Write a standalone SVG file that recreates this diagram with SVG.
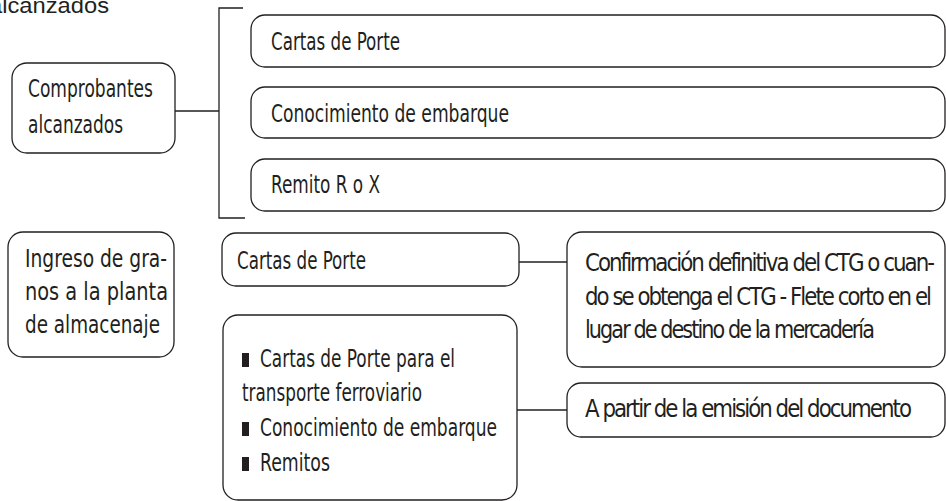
<svg xmlns="http://www.w3.org/2000/svg" width="946" height="501" viewBox="0 0 946 501">
<style>
.box{fill:#fff;stroke:#231f20;stroke-width:1.3}
.ln{fill:none;stroke:#231f20;stroke-width:1.3}
.bul{fill:#231f20}
.t{font-family:"Liberation Sans Narrow","DejaVu Sans",sans-serif;font-stretch:condensed;font-size:24px;fill:#231f20}
.tight{letter-spacing:-2px}
.title{font-family:"Liberation Sans","DejaVu Sans",sans-serif;font-size:22px;fill:#231f20}
</style>
<rect width="946" height="501" fill="#fff"/>
<text class="title" x="-11" y="13" textLength="120" lengthAdjust="spacingAndGlyphs">alcanzados</text>
<g id="connectors">
<path class="ln" d="M175 111H219M243 8H219V218H245"/>
<path class="ln" d="M519 262H567"/>
<path class="ln" d="M517 410H567"/>
</g>
<g id="comprobantes">
<rect class="box" x="12" y="63" width="163" height="90" rx="15"/>
<text class="t" x="28" y="97" textLength="125" lengthAdjust="spacingAndGlyphs">Comprobantes</text>
<text class="t" x="28" y="133" textLength="95" lengthAdjust="spacingAndGlyphs">alcanzados</text>
</g>
<g id="cartas-porte-1">
<rect class="box" x="251" y="15" width="694" height="52" rx="14"/>
<text class="t" x="271" y="50" textLength="129" lengthAdjust="spacingAndGlyphs">Cartas de Porte</text>
</g>
<g id="conocimiento">
<rect class="box" x="251" y="87" width="694" height="51" rx="14"/>
<text class="t" x="271" y="122" textLength="238" lengthAdjust="spacingAndGlyphs">Conocimiento de embarque</text>
</g>
<g id="remito">
<rect class="box" x="251" y="159" width="694" height="52" rx="14"/>
<text class="t" x="271" y="193" textLength="109" lengthAdjust="spacingAndGlyphs">Remito R o X</text>
</g>
<g id="ingreso">
<rect class="box" x="8" y="232" width="166" height="125" rx="15"/>
<text class="t" x="25" y="267" textLength="142" lengthAdjust="spacingAndGlyphs">Ingreso de gra-</text>
<text class="t" x="25" y="300" textLength="143" lengthAdjust="spacingAndGlyphs">nos a la planta</text>
<text class="t" x="25" y="333" textLength="135" lengthAdjust="spacingAndGlyphs">de almacenaje</text>
</g>
<g id="cartas-porte-2">
<rect class="box" x="222" y="233" width="297" height="53" rx="14"/>
<text class="t" x="237" y="269" textLength="129" lengthAdjust="spacingAndGlyphs">Cartas de Porte</text>
</g>
<g id="confirmacion">
<rect class="box" x="567" y="232" width="378" height="135" rx="15"/>
<text class="t tight" x="585" y="271" textLength="348" lengthAdjust="spacingAndGlyphs">Confirmación definitiva del CTG o cuan-</text>
<text class="t tight" x="585" y="305" textLength="345" lengthAdjust="spacingAndGlyphs">do se obtenga el CTG - Flete corto en el</text>
<text class="t tight" x="585" y="338" textLength="288" lengthAdjust="spacingAndGlyphs">lugar de destino de la mercadería</text>
</g>
<g id="documentos">
<rect class="box" x="223" y="315" width="294" height="185" rx="15"/>
<rect class="bul" x="242" y="353" width="7" height="14"/>
<text class="t" x="260" y="367" textLength="195" lengthAdjust="spacingAndGlyphs">Cartas de Porte para el</text>
<text class="t" x="242" y="401" textLength="180" lengthAdjust="spacingAndGlyphs">transporte ferroviario</text>
<rect class="bul" x="242" y="422" width="7" height="14"/>
<text class="t" x="260" y="436" textLength="237" lengthAdjust="spacingAndGlyphs">Conocimiento de embarque</text>
<rect class="bul" x="242" y="457" width="7" height="14"/>
<text class="t" x="260" y="471" textLength="70" lengthAdjust="spacingAndGlyphs">Remitos</text>
</g>
<g id="emision">
<rect class="box" x="567" y="383" width="378" height="54" rx="14"/>
<text class="t tight" x="585" y="417" textLength="325" lengthAdjust="spacingAndGlyphs">A partir de la emisión del documento</text>
</g>
</svg>
